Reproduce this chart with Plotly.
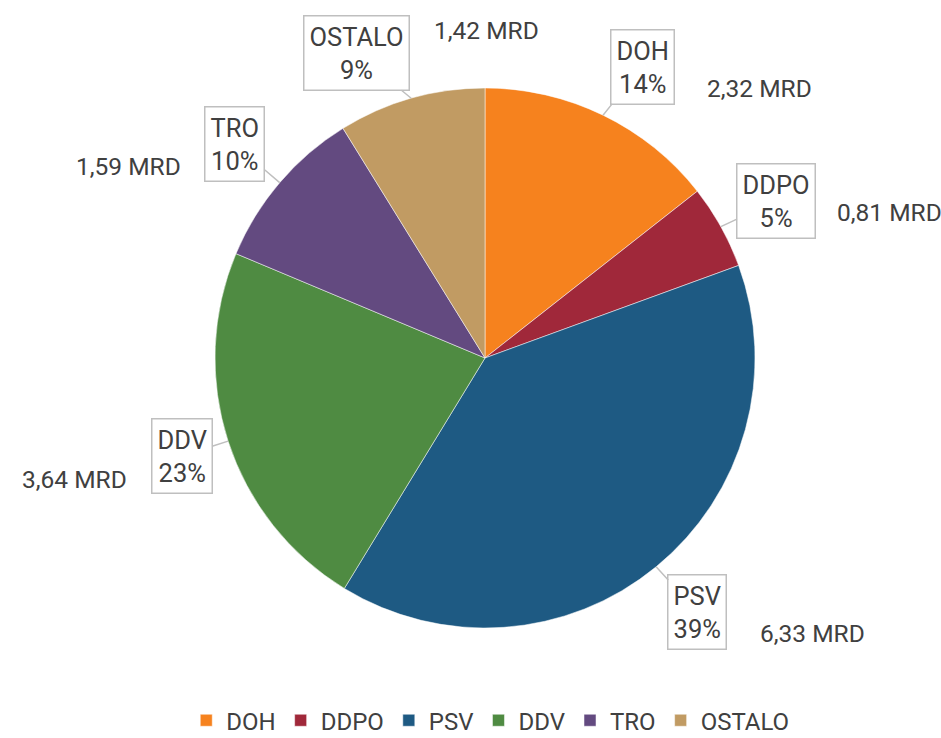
import math
import plotly.graph_objects as go

# ---- data ----
categories = ["DOH", "DDPO", "PSV", "DDV", "TRO", "OSTALO"]
values = [2.32, 0.81, 6.33, 3.64, 1.59, 1.42]
unit = "MRD"

# ---- styles ----
colors = ["#F6821E", "#A0283A", "#1E5A83", "#4F8B42", "#634A80", "#C19B63"]
# callout box placement: angle nudge (deg) and radius factor relative to pie radius
callout_nudge = [2.4, 0.7, -0.6, 0.0, 0.0, -7.0]
callout_radius = [1.226, 1.226, 1.226, 1.18, 1.22, 1.226]
# pixel offsets (dx, dy) of the value label from its callout box centre, and anchor side
value_offsets = [(63, 22, "left"), (59, 12, "left"), (61, 22, "left"),
                 (-53, 23, "right"), (-52, 22, "right"), (76, -22, "left")]

W, H = 941, 738
CX, CY, R = 485, 358, 270          # pie centre / radius in pixels (from top-left)
FONT = "Roboto, Arial, sans-serif"
TXT = "#404040"

total = sum(values)
percents = [round(v / total * 100) for v in values]
value_labels = [f"{v:.2f}".replace(".", ",") + " " + unit for v in values]


def px_to_paper(x, y):
    return x / W, (H - y) / H


fig = go.Figure()
fig.add_trace(go.Pie(
    labels=categories,
    values=values,
    sort=False,
    direction="clockwise",
    rotation=0,
    textinfo="none",
    hoverinfo="label+value+percent",
    marker=dict(colors=colors, line=dict(color="white", width=0.5)),
    domain=dict(x=[(CX - R) / W, (CX + R) / W],
                y=[(H - CY - R) / H, (H - CY + R) / H]),
))

annotations = []
cum = 0.0
for i, (cat, v) in enumerate(zip(categories, values)):
    mid = (cum + v / 2) / total * 2 * math.pi
    cum += v
    tip = (CX + R * math.sin(mid), CY - R * math.cos(mid))
    a2 = mid + math.radians(callout_nudge[i])
    rf = callout_radius[i]
    box = (CX + rf * R * math.sin(a2), CY - rf * R * math.cos(a2))
    tx, ty = px_to_paper(*tip)
    annotations.append(dict(
        x=tx, y=ty, xref="paper", yref="paper",
        ax=box[0] - tip[0], ay=box[1] - tip[1],
        text=f"{cat}<br>{percents[i]}%",
        showarrow=True, arrowhead=0, arrowwidth=1.5, arrowcolor="#BFBFBF",
        standoff=0, startstandoff=0,
        bordercolor="#BFBFBF", borderwidth=1.5, borderpad=5, bgcolor="white",
        font=dict(family=FONT, size=25.5, color=TXT), align="center",
    ))
    dx, dy, side = value_offsets[i]
    bx, by = px_to_paper(*box)
    annotations.append(dict(
        x=bx, y=by, xref="paper", yref="paper",
        xshift=dx, yshift=-dy, xanchor=side, yanchor="middle",
        text=value_labels[i], showarrow=False,
        font=dict(family=FONT, size=24.5, color=TXT),
    ))

fig.update_layout(
    width=W, height=H,
    margin=dict(l=0, r=0, t=0, b=0, autoexpand=False),
    paper_bgcolor="white", plot_bgcolor="white",
    font=dict(family=FONT, color=TXT),
    annotations=annotations,
    showlegend=True,
    legend=dict(orientation="h", x=0.521, xanchor="center", y=0.0235, yanchor="middle",
                font=dict(family=FONT, size=24, color=TXT),
                itemwidth=30, traceorder="normal"),
)

fig.write_html("out.html", config={"displayModeBar": False},
               post_script="document.body.style.margin='0px';document.body.style.overflow='hidden';")
